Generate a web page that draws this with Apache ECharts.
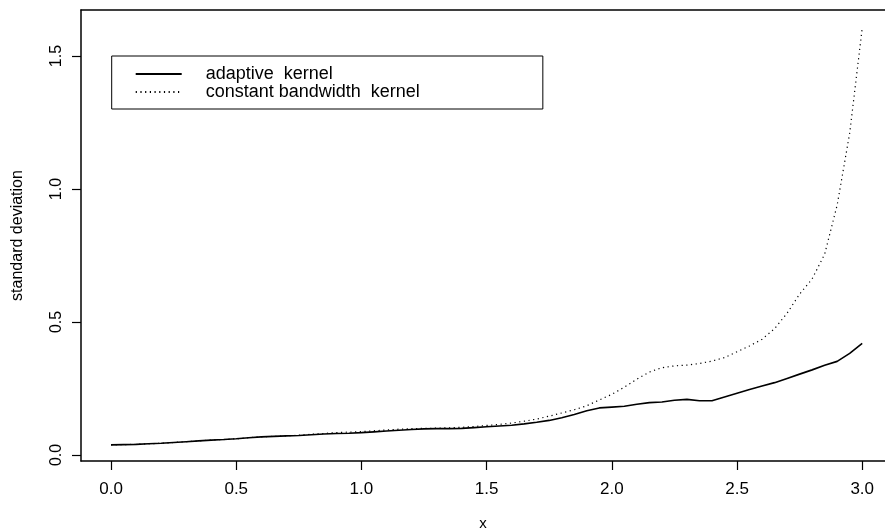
<!DOCTYPE html>
<html>
<head>
<meta charset="utf-8">
<script src="https://cdn.jsdelivr.net/npm/echarts@6/dist/echarts.min.js"></script>
<style>
html,body{margin:0;padding:0;background:#fff;}
#chart{width:885px;height:531px;}
</style>
</head>
<body>
<div id="chart"></div>
<script>
// ---- data ----
var xValues = [0.00,0.05,0.10,0.15,0.20,0.25,0.30,0.35,0.40,0.45,
               0.50,0.55,0.60,0.65,0.70,0.75,0.80,0.85,0.90,0.95,
               1.00,1.05,1.10,1.15,1.20,1.25,1.30,1.35,1.40,1.45,
               1.50,1.55,1.60,1.65,1.70,1.75,1.80,1.85,1.90,1.95,
               2.00,2.05,2.10,2.15,2.20,2.25,2.30,2.35,2.40,2.45,
               2.50,2.55,2.60,2.65,2.70,2.75,2.80,2.85,2.90,2.95,3.00];
var adaptiveKernel = [0.038,0.039,0.040,0.042,0.044,0.047,0.050,0.053,0.056,0.058,
                      0.061,0.065,0.068,0.070,0.072,0.073,0.076,0.079,0.081,0.082,
                      0.084,0.087,0.090,0.093,0.096,0.098,0.099,0.099,0.100,0.103,
                      0.106,0.109,0.112,0.117,0.123,0.130,0.140,0.152,0.166,0.177,
                      0.180,0.183,0.191,0.197,0.199,0.206,0.209,0.204,0.204,0.218,
                      0.232,0.246,0.259,0.272,0.288,0.304,0.320,0.337,0.352,0.382,0.420];
var constantKernel = [0.038,0.039,0.040,0.042,0.044,0.047,0.050,0.053,0.056,0.058,
                      0.061,0.065,0.068,0.070,0.072,0.074,0.078,0.081,0.084,0.086,
                      0.088,0.091,0.094,0.097,0.099,0.100,0.101,0.102,0.104,0.107,
                      0.111,0.115,0.120,0.127,0.135,0.146,0.158,0.170,0.185,0.207,
                      0.228,0.255,0.285,0.312,0.328,0.335,0.338,0.344,0.353,0.366,
                      0.388,0.410,0.435,0.475,0.533,0.605,0.662,0.755,0.940,1.210,1.605];
var xTicks = [0, 0.5, 1, 1.5, 2, 2.5, 3];
var xTickLabels = ['0.0','0.5','1.0','1.5','2.0','2.5','3.0'];
var yTicks = [0, 0.5, 1, 1.5];
var yTickLabels = ['0.0','0.5','1.0','1.5'];
var seriesNames = ['adaptive  kernel', 'constant bandwidth  kernel'];
var xTitle = 'x';
var yTitle = 'standard deviation';

function pairs(xs, ys){ return xs.map(function(x,i){ return [x, ys[i]]; }); }
function labelFor(ticks, labels){
  return function(v){
    for (var i=0;i<ticks.length;i++){ if (Math.abs(ticks[i]-v) < 1e-9) return labels[i]; }
    return '';
  };
}

var font = 'Liberation Sans, Arial, Helvetica, sans-serif';
var xMin = -0.12, xMax = 3.091;
var chart = echarts.init(document.getElementById('chart'), null, {renderer:'canvas'});
chart.setOption({
  animation: false,
  backgroundColor: '#ffffff',
  textStyle: { fontFamily: font, color: '#000' },
  grid: { left: 81, top: 10, right: 0, bottom: 70, show: false, containLabel: false, outerBoundsMode: 'none' },
  legend: {
    orient: 'vertical', left: 111.7, top: 56,
    backgroundColor: '#fff',
    borderColor: '#000', borderWidth: 1, borderRadius: 0,
    padding: [9, 123, 8, 23],
    itemWidth: 46, itemHeight: 10, itemGap: 0,
    selectedMode: false,
    itemStyle: { opacity: 0 },
    textStyle: { fontSize: 18, fontFamily: font, color: '#000', lineHeight: 17.6, padding: [0,0,0,19] },
    data: seriesNames
  },
  xAxis: [{
    type: 'value', min: xMin, max: xMax,
    name: xTitle, nameLocation: 'middle', nameGap: 55,
    nameTextStyle: { fontSize: 15, fontFamily: font, color: '#000' },
    axisLine: { show: true, onZero: false, lineStyle: { color: '#000', width: 1.5 } },
    axisTick: { show: true, inside: false, length: 9, customValues: xTicks, lineStyle: { color: '#000', width: 1.2 } },
    axisLabel: { customValues: xTicks, formatter: labelFor(xTicks, xTickLabels), fontSize: 17, color: '#000', fontFamily: font, margin: 20 },
    splitLine: { show: false }
  }, {
    type: 'value', min: xMin, max: xMax, position: 'top',
    axisLine: { show: true, onZero: false, lineStyle: { color: '#000', width: 1.5 } },
    axisTick: { show: false }, axisLabel: { show: false }, splitLine: { show: false }
  }],
  yAxis: {
    type: 'value', min: -0.0226, max: 1.673,
    name: yTitle, nameLocation: 'middle', nameGap: 55, nameRotate: 90,
    nameTextStyle: { fontSize: 16, fontFamily: font, color: '#000' },
    axisLine: { show: true, onZero: false, lineStyle: { color: '#000', width: 1.5 } },
    axisTick: { show: true, inside: false, length: 9, customValues: yTicks, lineStyle: { color: '#000', width: 1.2 } },
    axisLabel: { customValues: yTicks, formatter: labelFor(yTicks, yTickLabels), rotate: 90, fontSize: 16, color: '#000', fontFamily: font, margin: 16, align: 'center', verticalAlign: 'bottom' },
    splitLine: { show: false }
  },
  series: [
    { name: seriesNames[0], type: 'line', xAxisIndex: 0, data: pairs(xValues, adaptiveKernel), showSymbol: false, symbol: 'none',
      lineStyle: { color: '#000', width: 1.6, type: 'solid' }, itemStyle: { color: '#000' } },
    { name: seriesNames[1], type: 'line', xAxisIndex: 0, data: pairs(xValues, constantKernel), showSymbol: false, symbol: 'none',
      lineStyle: { color: '#000', width: 1.2, type: [1.2, 3.5] }, itemStyle: { color: '#000' } }
  ]
});
</script>
</body>
</html>
